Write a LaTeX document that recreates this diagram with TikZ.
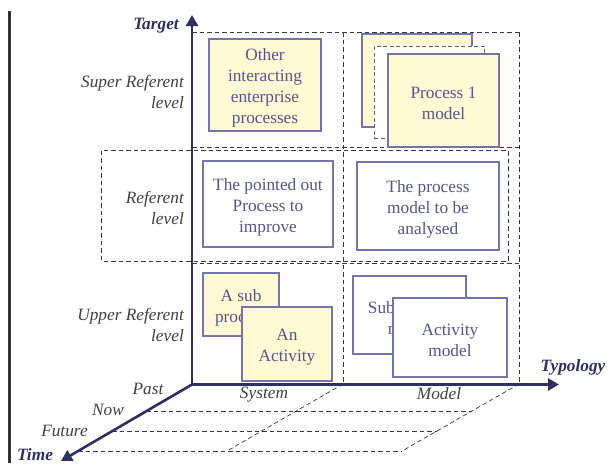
\documentclass[tikz,border=0pt]{standalone}
\usepackage{fontspec}
\setmainfont{Liberation Serif}
\usetikzlibrary{arrows.meta}
\definecolor{axiscol}{HTML}{2F2F62}
\definecolor{dashcol}{HTML}{34345A}
\definecolor{boxborder}{HTML}{7575AA}
\definecolor{boxtext}{HTML}{55558E}
\definecolor{boxfill}{HTML}{FFF9D4}
\definecolor{labelcol}{HTML}{404040}
\tikzset{
  txt/.style={font=\fontsize{17.3}{21}\selectfont},
  procbox/.style={draw=boxborder, line width=1.4pt, inner sep=0pt},
  boxtxt/.style={txt, text=boxtext, align=center, inner sep=0pt},
  yellowbox/.style={procbox, fill=boxfill},
  whitebox/.style={procbox, fill=white},
  ghostbox/.style={draw=boxborder!80!black, dashed, dash pattern=on 4pt off 2.5pt, line width=1pt, fill=white, inner sep=0pt},
  grid/.style={draw=dashcol, line width=0.9pt, dash pattern=on 4.5pt off 3pt},
  axis/.style={draw=axiscol, line width=2.6pt, -{Triangle[length=11pt,width=12pt]}},
  levellabel/.style={txt, text=labelcol, font=\fontsize{17.3}{21}\selectfont\itshape, align=right, anchor=east, inner sep=0pt},
  timelabel/.style={txt, text=labelcol, font=\fontsize{17.3}{21}\selectfont\itshape, inner sep=0pt},
  axislabel/.style={text=axiscol, font=\fontsize{17.3}{21}\selectfont\bfseries\itshape, inner sep=0pt}
}
\begin{document}
\begin{tikzpicture}[x=1pt,y=-1pt]
\useasboundingbox (0,0) rectangle (612,463);
% left bar
\draw[line width=3pt, color=black!80] (9,11) -- (9,463);
% referent dashed frame
\draw[grid] (101.5,150.5) rectangle (508,261);
% grid
\draw[grid] (192,32) -- (519,32);
\draw[grid] (192,147.5) -- (519,147.5);
\draw[grid] (192,263) -- (519,263);
\draw[grid] (343,32) -- (343,384);
\draw[grid] (519,32) -- (519,384);
% time planes
\draw[grid] (146,411) -- (472,411);
\draw[grid] (112,431) -- (437,431);
\draw[grid] (78,451) -- (402,451);
\draw[grid, line width=0.7pt] (343,384) -- (227,451);
\draw[grid, line width=0.7pt] (519,384) -- (402,451);
% boxes
\node[yellowbox, minimum width=112pt, minimum height=92pt] (other) at (265,85) {};
\node[boxtxt] (othertxt) at ([yshift=-3pt]other.center) {Other\\interacting\\enterprise\\processes};
\node[yellowbox, minimum width=110pt, minimum height=93pt] (p1back) at (417,80.5) {};
\node[ghostbox, minimum width=110pt, minimum height=92pt] (p1mid) at (429,92) {};
\node[yellowbox, minimum width=111pt, minimum height=93pt] (p1) at (443.5,100.5) {};
\node[boxtxt] (p1txt) at ([yshift=-3pt]p1.center) {Process 1\\model};
\node[whitebox, minimum width=130pt, minimum height=86pt] (pointed) at (268,204) {};
\node[boxtxt] (pointedtxt) at ([yshift=-3pt]pointed.center) {The pointed out\\Process to\\improve};
\node[whitebox, minimum width=142pt, minimum height=88pt] (analysed) at (428,206) {};
\node[boxtxt] (analysedtxt) at ([yshift=-3pt]analysed.center) {The process\\model to be\\analysed};
\node[yellowbox, minimum width=76pt, minimum height=63pt] (subproc) at (241,304.5) {};
\node[boxtxt] (subproctxt) at ([yshift=-3.5pt]subproc.center) {A sub\\process};
\node[yellowbox, minimum width=90pt, minimum height=74pt] (activity) at (287,344) {};
\node[boxtxt] (activitytxt) at ([yshift=-3pt]activity.center) {An\\Activity};
\node[whitebox, minimum width=113pt, minimum height=78pt] (submodel) at (409.5,315) {};
\node[boxtxt] (submodeltxt) at ([yshift=-3pt]submodel.center) {Sub process\\model};
\node[whitebox, minimum width=114pt, minimum height=79pt] (actmodel) at (450,337.5) {};
\node[boxtxt] (actmodeltxt) at ([yshift=-3pt]actmodel.center) {Activity\\model};
% axes
\coordinate (O) at (192,384.5);
\coordinate (T) at (192,15);
\coordinate (R) at (559,384.5);
\coordinate (Ti) at (61,461);
\draw[axis] (O) -- (T);
\draw[axis] (O) -- (R);
\draw[axis] (O) -- (Ti);
\node[axislabel] (target) at (156,25.5) {Target};
\node[axislabel] (typology) at (573,367.5) {Typology};
\node[axislabel] (time) at (35,454.5) {Time};
% level labels
\node[levellabel] (super) at (184,92) {Super Referent\\level};
\node[levellabel] (referent) at (184,207.5) {Referent\\level};
\node[levellabel] (upper) at (184,324.5) {Upper Referent\\level};
% time / typology labels
\node[timelabel] (past) at (148,389) {Past};
\node[timelabel] (now) at (108,410) {Now};
\node[timelabel] (future) at (64.5,431) {Future};
\node[timelabel] (system) at (264,395) {System};
\node[timelabel] (model) at (439,394) {Model};
\end{tikzpicture}
\end{document}
